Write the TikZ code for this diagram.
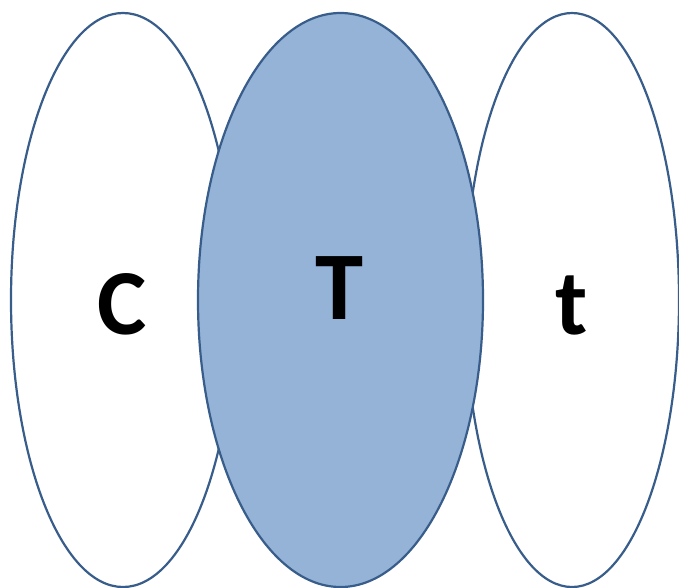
\documentclass[tikz,border=0pt]{standalone}
\usepackage{fontspec}
\setmainfont{Carlito}
\usetikzlibrary{shapes.geometric}
\definecolor{edgecolor}{RGB}{56, 93, 138}
\definecolor{tcolor}{RGB}{149, 179, 215}

\begin{document}
\begin{tikzpicture}[
  x=1pt, y=-1pt,
  % --- Styles ---
  setell/.style={
    ellipse, draw=edgecolor, line width=2.2pt, fill=#1,
    inner sep=0pt, minimum height=574pt},
  setell/.default=white,
  setlbl/.style={font=\bfseries\fontsize{#1}{#1}\selectfont, inner sep=0pt},
  setlbl/.default=93,
]
\useasboundingbox (0,0) rectangle (679,587);
% === SETS ===
\node[setell, minimum width=224pt] (Cset) at (123,300) {};
\node[setell, minimum width=214pt] (tset) at (572,300) {};
\node[setell=tcolor, minimum width=285pt] (Tset) at (340.5,300) {};
% === LABELS ===
\node[setlbl] (Clbl) at (122.5,304) {C};
\node[setlbl=97] (Tlbl) at (340,288) {T};
\node[setlbl] (tlbl) at (572,305) {t};
\end{tikzpicture}
\end{document}
